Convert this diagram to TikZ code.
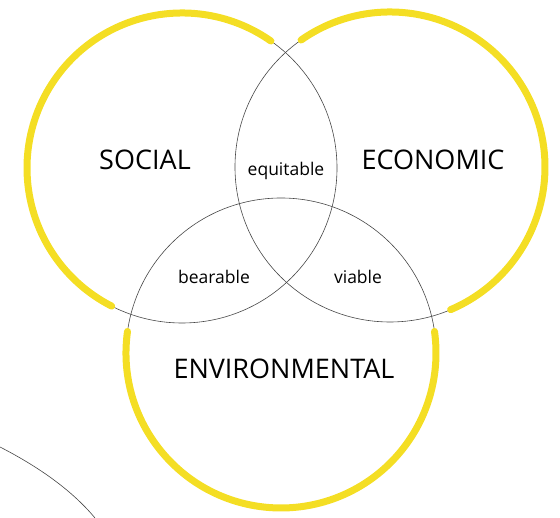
\documentclass[tikz,border=0pt]{standalone}
\usepackage{fontspec}
\setmainfont{Open Sans}
\usepackage{xcolor}
\definecolor{rimyellow}{RGB}{244,222,36}
\definecolor{thinline}{RGB}{70,70,70}

\begin{document}
\begin{tikzpicture}[x=1pt, y=1pt,
        thin circle/.style = {draw=thinline, line width=0.6pt},
        rim/.style = {draw=rimyellow, line width=7pt, line cap=round},
        big/.style = {font=\fontsize{27}{30}\selectfont},
        small/.style = {font=\fontsize{17.5}{20}\selectfont}]
        \useasboundingbox (0,0) rectangle (560,518);

        \coordinate (social) at (182,350);
        \coordinate (economic) at (390,351);
        \coordinate (environ) at (281,165);

        % thin outlines
        \draw[thin circle] (social) circle[radius=155];
        \draw[thin circle] (economic) circle[radius=155];
        \draw[thin circle] (environ) circle[radius=155];

        % yellow outer rims
        \draw[rim] ([shift={(55:155)}]social) arc[start angle=55, end angle=243, radius=155];
        \draw[rim] ([shift={(125:155)}]economic) arc[start angle=125, end angle=-67, radius=155];
        \draw[rim] ([shift={(172:155)}]environ) arc[start angle=172, end angle=368, radius=155];

        \node[big] (soc) at (145,358) {SOCIAL};
        \node[big] (eco) at (433,358) {ECONOMIC};
        \node[big] (env) at (284,149) {ENVIRONMENTAL};
        \node[small] (equ) at (286,347) {equitable};
        \node[small] (bea) at (214,241) {bearable};
        \node[small] (via) at (358,241) {viable};

        \draw[thin circle] (0,71) .. controls (35,53) and (70,30) .. (95,0);
    \end{tikzpicture}
\end{document}
